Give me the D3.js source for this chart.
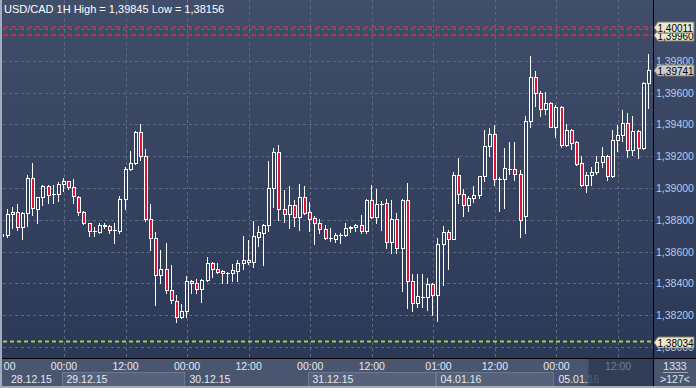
<!DOCTYPE html>
<html><head><meta charset="utf-8">
<script src="https://cdn.jsdelivr.net/npm/d3@7/dist/d3.min.js"></script>
<style>html,body{margin:0;padding:0;background:#2e3a56;overflow:hidden}svg{display:block}text{font-family:"Liberation Sans",Arial,sans-serif}</style>
</head><body><svg id="c" width="696" height="388"></svg>
<script>
const title = "USD/CAD 1H High = 1,39845 Low = 1,38156";
const open = [1.38698,1.38704,1.38836,1.38849,1.38757,1.38843,1.39063,1.38870,1.38943,1.39013,1.38960,1.38960,1.39023,1.39042,1.39004,1.38945,1.38847,1.38778,1.38728,1.38723,1.38770,1.38759,1.38736,1.38731,1.38929,1.39118,1.39155,1.39350,1.39201,1.38803,1.38684,1.38453,1.38489,1.38358,1.38291,1.38190,1.38226,1.38417,1.38400,1.38363,1.38421,1.38526,1.38489,1.38478,1.38467,1.38463,1.38480,1.38526,1.38536,1.38536,1.38694,1.38719,1.38765,1.38998,1.39225,1.38866,1.38835,1.38891,1.38819,1.38941,1.38849,1.38811,1.38778,1.38740,1.38684,1.38681,1.38702,1.38702,1.38747,1.38753,1.38765,1.38728,1.38925,1.38816,1.38897,1.38904,1.38662,1.38803,1.38621,1.38925,1.38417,1.38279,1.38316,1.38313,1.38396,1.38329,1.38648,1.38723,1.38681,1.39082,1.38962,1.38891,1.38935,1.38954,1.39075,1.39264,1.39340,1.39055,1.39055,1.39120,1.39120,1.39088,1.38826,1.39421,1.39696,1.39596,1.39495,1.39533,1.39382,1.39508,1.39270,1.39365,1.39287,1.39155,1.39019,1.39082,1.39099,1.39165,1.39201,1.39075,1.39302,1.39333,1.39407,1.39239,1.39360,1.39250,1.39662];
const high = [1.38723,1.38868,1.38880,1.38899,1.38851,1.39082,1.39159,1.38943,1.39021,1.39019,1.39019,1.39038,1.39061,1.39046,1.39055,1.38950,1.38857,1.38782,1.38757,1.38782,1.38778,1.38765,1.38782,1.38950,1.39130,1.39233,1.39360,1.39403,1.39243,1.38897,1.38721,1.38610,1.38652,1.38516,1.38327,1.38270,1.38446,1.38421,1.38426,1.38425,1.38568,1.38536,1.38526,1.38484,1.38473,1.38522,1.38547,1.38698,1.38673,1.38792,1.38761,1.38774,1.39170,1.39250,1.39270,1.38987,1.39013,1.38925,1.39025,1.39013,1.38914,1.38824,1.38803,1.38767,1.38747,1.38715,1.38715,1.38778,1.38761,1.38774,1.38830,1.38929,1.39019,1.38992,1.38920,1.38929,1.38925,1.38841,1.38930,1.39033,1.38459,1.38459,1.38459,1.38432,1.38404,1.38684,1.38761,1.38736,1.39102,1.39191,1.38992,1.38950,1.39013,1.39078,1.39365,1.39375,1.39396,1.39069,1.39250,1.39287,1.39289,1.39113,1.39453,1.39830,1.39738,1.39612,1.39606,1.39543,1.39522,1.39516,1.39403,1.39369,1.39296,1.39201,1.39102,1.39130,1.39201,1.39256,1.39208,1.39365,1.39396,1.39491,1.39474,1.39453,1.39365,1.39669,1.39845];
const low = [1.38692,1.38692,1.38748,1.38736,1.38679,1.38761,1.38830,1.38782,1.38893,1.38908,1.38906,1.38920,1.38983,1.38992,1.38904,1.38832,1.38774,1.38700,1.38698,1.38715,1.38747,1.38719,1.38652,1.38715,1.38866,1.39113,1.39149,1.39176,1.38794,1.38610,1.38264,1.38400,1.38341,1.38275,1.38156,1.38180,1.38190,1.38341,1.38338,1.38285,1.38417,1.38442,1.38463,1.38400,1.38400,1.38415,1.38417,1.38489,1.38522,1.38505,1.38635,1.38516,1.38731,1.38879,1.38799,1.38788,1.38750,1.38761,1.38736,1.38836,1.38731,1.38648,1.38719,1.38677,1.38669,1.38662,1.38656,1.38698,1.38725,1.38731,1.38715,1.38719,1.38809,1.38782,1.38736,1.38621,1.38589,1.38593,1.38354,1.38243,1.38228,1.38253,1.38250,1.38233,1.38201,1.38163,1.38390,1.38491,1.38677,1.38904,1.38824,1.38857,1.38914,1.38935,1.39044,1.39201,1.39019,1.38857,1.38874,1.39085,1.39050,1.38690,1.38719,1.39382,1.39516,1.39453,1.39465,1.39382,1.39323,1.39256,1.39267,1.39243,1.39145,1.39013,1.38977,1.39019,1.39088,1.39134,1.39050,1.39071,1.39235,1.39297,1.39193,1.39208,1.39187,1.39243,1.39501];
const close = [1.38711,1.38836,1.38849,1.38755,1.38845,1.39063,1.38874,1.38943,1.39013,1.38956,1.38964,1.39025,1.39042,1.39004,1.38950,1.38847,1.38778,1.38728,1.38730,1.38770,1.38758,1.38734,1.38736,1.38929,1.39118,1.39155,1.39350,1.39201,1.38803,1.38684,1.38453,1.38489,1.38358,1.38296,1.38190,1.38226,1.38417,1.38400,1.38363,1.38421,1.38526,1.38489,1.38473,1.38463,1.38467,1.38484,1.38526,1.38547,1.38547,1.38698,1.38723,1.38765,1.38998,1.39225,1.38866,1.38835,1.38891,1.38819,1.38941,1.38845,1.38807,1.38778,1.38740,1.38684,1.38684,1.38702,1.38702,1.38747,1.38753,1.38765,1.38728,1.38925,1.38816,1.38897,1.38899,1.38662,1.38803,1.38621,1.38925,1.38417,1.38279,1.38321,1.38316,1.38396,1.38329,1.38648,1.38723,1.38681,1.39082,1.38962,1.38891,1.38935,1.38954,1.39075,1.39264,1.39340,1.39055,1.39055,1.39124,1.39120,1.39088,1.38797,1.39421,1.39696,1.39596,1.39495,1.39533,1.39386,1.39508,1.39270,1.39365,1.39285,1.39151,1.39019,1.39082,1.39099,1.39165,1.39201,1.39075,1.39302,1.39333,1.39407,1.39239,1.39360,1.39250,1.39662,1.39741];
const priceTicks = [1.380,1.382,1.384,1.386,1.388,1.390,1.392,1.394,1.396,1.398,1.400];
const timeLabels = [{i:0,t:"12:00"},{i:12,t:"00:00"},{i:24,t:"12:00"},{i:36,t:"00:00"},{i:48,t:"12:00"},{i:60,t:"00:00"},{i:72,t:"12:00"},{i:85,t:"01:00"},{i:96,t:"12:00"},{i:108,t:"00:00"},{i:120,t:"12:00"}];
const gridBars = [12,24,36,48,60,72,84,96,108,120];
const dates = [{s:0,e:11,t:"28.12.15",box:0},{s:12,e:35,t:"29.12.15",box:1},{s:36,e:59,t:"30.12.15",box:0},{s:60,e:84,t:"31.12.15",box:1},{s:85,e:107,t:"04.01.16",box:1},{s:108,e:126,t:"05.01.16",box:0}];
const levels = [{v:1.39960,c:"#d42a3a",tag:"1,39960",fill:"#ebe8cc"},{v:1.40011,c:"#d42a3a",tag:"1,40011",fill:"#ebe8cc"},{v:1.38034,c:"#a6cf45",tag:"1,38034",fill:"#ebe8cc"}];
const lastPrice = {v:1.39741, tag:"1,39741"};
const infoTop = "1333", infoBottom = ">127<";

const svg = d3.select("#c");
const W=696,H=388, L=3, R=653, B=358.5;
const x = d3.scaleLinear().domain([0,126]).range([2.4,648.8]);
const y = d3.scaleLinear().domain([1.38,1.40]).range([347,29]);
const fmt = v => d3.format(".5f")(v).replace(".",",");

const defs = svg.append("defs");
const g1 = defs.append("linearGradient").attr("id","bg").attr("x1",0).attr("y1",0).attr("x2",0).attr("y2",1);
g1.append("stop").attr("offset","0%").attr("stop-color","#414e6a");
g1.append("stop").attr("offset","100%").attr("stop-color","#2b3856");
defs.append("clipPath").attr("id","pc").append("rect").attr("x",L).attr("y",0).attr("width",R-L).attr("height",B);
defs.append("clipPath").attr("id","tc").append("rect").attr("x",L).attr("y",359).attr("width",R-L).attr("height",29);

svg.append("rect").attr("width",W).attr("height",359).attr("fill","url(#bg)");
svg.append("rect").attr("y",359).attr("width",W).attr("height",29).attr("fill","#4a566f");

const plot = svg.append("g").attr("clip-path","url(#pc)");
plot.selectAll("line.hg").data(priceTicks).join("line")
  .attr("x1",L).attr("x2",R).attr("y1",d=>Math.round(y(d))+0.5).attr("y2",d=>Math.round(y(d))+0.5)
  .attr("stroke","#5c6a86").attr("stroke-dasharray","3,3");
plot.selectAll("line.vg").data(gridBars).join("line")
  .attr("y1",0).attr("y2",B).attr("x1",d=>Math.round(x(d))+0.5).attr("x2",d=>Math.round(x(d))+0.5)
  .attr("stroke","#5c6a86").attr("stroke-dasharray","3,3");

const idx = d3.range(open.length);
const cg = plot.append("g");
idx.forEach(i=>{
  const c = Math.round(x(i));
  const o=open[i], h=high[i], l=low[i], cl=close[i];
  const yt = Math.round(y(Math.max(o,cl)))+0.5, yb = Math.round(y(Math.min(o,cl)))+0.5;
  const yh = Math.round(y(h)), yl = Math.round(y(l));
  cg.append("line").attr("x1",c-0.5).attr("x2",c-0.5).attr("y1",yh).attr("y2",yl+1).attr("stroke","#ffffff");
  if (yb-yt < 1) {
    cg.append("line").attr("x1",c-2).attr("x2",c+2).attr("y1",yt).attr("y2",yt).attr("stroke","#ffffff");
  } else {
    cg.append("rect").attr("x",c-1.5).attr("y",yt).attr("width",3).attr("height",yb-yt)
      .attr("fill", cl<o ? "#dc1438" : "#34415e").attr("stroke","#ffffff");
  }
});

levels.forEach(lv=>{
  const yy = y(lv.v);
  plot.append("line").attr("x1",L).attr("x2",R).attr("y1",yy).attr("y2",yy)
    .attr("stroke",lv.c).attr("stroke-width",2).attr("stroke-dasharray", lv.v>1.39?"5,3":"4,3");
});

svg.append("text").attr("x",4).attr("y",13).attr("fill","#ffffff").attr("font-size",11).text(title);

svg.selectAll("text.pl").data(priceTicks).join("text")
  .attr("x",656).attr("y",d=>y(d)+4).attr("fill","#b4ccec").attr("font-size",10.5).text(d=>fmt(d));

function tag(v, label, fill){
  const yy = Math.round(y(v))+0.5;
  svg.append("path").attr("d",`M654,${yy} L658,${yy-5.5} L694,${yy-5.5} L694,${yy+5.5} L658,${yy+5.5} Z`)
    .attr("fill",fill).attr("stroke","#7d7d6a").attr("stroke-width",1);
  svg.append("text").attr("x",657.5).attr("y",yy+4).attr("fill","#000000").attr("font-size",10).text(label);
}
levels.forEach(lv=>tag(lv.v, lv.tag, lv.fill));
tag(lastPrice.v, lastPrice.tag, "#c9ccd0");

svg.append("line").attr("x1",653.5).attr("x2",653.5).attr("y1",0).attr("y2",H).attr("stroke","#000");
svg.append("line").attr("x1",0).attr("x2",W).attr("y1",358.5).attr("y2",358.5).attr("stroke","#000");

const ta = svg.append("g").attr("clip-path","url(#tc)");
dates.forEach(d=>{
  const x0 = Math.round(x(d.s))-1.5, x1 = Math.round(x(d.e))+2.5;
  if (d.box) ta.append("rect").attr("x",x0).attr("y",372.5).attr("width",x1-x0).attr("height",15)
    .attr("fill","#56627b").attr("stroke","#6c7890");
  ta.append("text").attr("x",Math.max(x0,L)+4+(d.s===0?4:0)).attr("y",383).attr("fill","#e4e9f0").attr("font-size",10.5).text(d.t);
});
ta.selectAll("text.tl").data(timeLabels).join("text")
  .attr("x",d=>x(d.i)).attr("y",370).attr("text-anchor","middle").attr("font-size",10.5)
  .attr("fill",d=>d.i===120?"#6e7b92":"#e4e9f0").text(d=>d.t);
svg.append("rect").attr("x",Math.round(x(114))+1.5).attr("y",359).attr("width",R-Math.round(x(114))-1.5).attr("height",27)
  .attr("fill","#2b3853").attr("opacity",0.8);
svg.selectAll("text.tl2").data(timeLabels.filter(d=>d.i===120)).join("text")
  .attr("x",d=>x(d.i)).attr("y",370).attr("text-anchor","middle").attr("font-size",10.5)
  .attr("fill","#6e7b92").text(d=>d.t);

svg.append("text").attr("x",675).attr("y",370).attr("text-anchor","middle").attr("fill","#dfe7f2").attr("font-size",10.5).text(infoTop);
svg.append("line").attr("x1",663).attr("x2",688).attr("y1",372.5).attr("y2",372.5).attr("stroke","#9aa6ba");
svg.append("text").attr("x",675).attr("y",383).attr("text-anchor","middle").attr("fill","#dfe7f2").attr("font-size",10.5).text(infoBottom);

svg.append("rect").attr("x",0).attr("y",0).attr("width",2).attr("height",H).attr("fill","#a3acbb");
svg.append("rect").attr("x",0).attr("y",386).attr("width",W).attr("height",2).attr("fill","#a3acbb");
</script></body></html>
